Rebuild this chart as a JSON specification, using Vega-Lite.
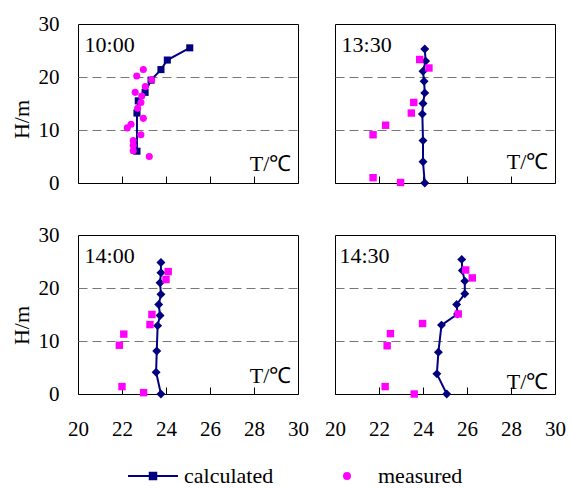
{
  "$schema": "https://vega.github.io/schema/vega-lite/v6.json",
  "padding": {"left": 9, "top": 12, "right": 0, "bottom": 0},
  "background": "white",
  "datasets": {
    "d": [
      {"panel": "10:00", "type": "calculated", "T": 22.68, "H": 6.0},
      {"panel": "10:00", "type": "calculated", "T": 22.68, "H": 13.2},
      {"panel": "10:00", "type": "calculated", "T": 22.74, "H": 15.5},
      {"panel": "10:00", "type": "calculated", "T": 23.05, "H": 17.1},
      {"panel": "10:00", "type": "calculated", "T": 23.32, "H": 19.4},
      {"panel": "10:00", "type": "calculated", "T": 23.77, "H": 21.4},
      {"panel": "10:00", "type": "calculated", "T": 24.06, "H": 23.2},
      {"panel": "10:00", "type": "calculated", "T": 25.08, "H": 25.5},
      {"panel": "10:00", "type": "measured", "T": 22.97, "H": 21.4},
      {"panel": "10:00", "type": "measured", "T": 22.67, "H": 20.2},
      {"panel": "10:00", "type": "measured", "T": 23.35, "H": 19.5},
      {"panel": "10:00", "type": "measured", "T": 23.06, "H": 18.2},
      {"panel": "10:00", "type": "measured", "T": 22.6, "H": 17.1},
      {"panel": "10:00", "type": "measured", "T": 22.9, "H": 16.4},
      {"panel": "10:00", "type": "measured", "T": 22.86, "H": 15.2},
      {"panel": "10:00", "type": "measured", "T": 22.71, "H": 14.1},
      {"panel": "10:00", "type": "measured", "T": 22.97, "H": 12.2},
      {"panel": "10:00", "type": "measured", "T": 22.41, "H": 11.1},
      {"panel": "10:00", "type": "measured", "T": 22.24, "H": 10.4},
      {"panel": "10:00", "type": "measured", "T": 22.86, "H": 9.1},
      {"panel": "10:00", "type": "measured", "T": 22.51, "H": 8.0},
      {"panel": "10:00", "type": "measured", "T": 22.51, "H": 7.1},
      {"panel": "10:00", "type": "measured", "T": 22.51, "H": 6.1},
      {"panel": "10:00", "type": "measured", "T": 23.24, "H": 5.0},
      {"panel": "13:30", "type": "calculated", "T": 24.08, "H": 0.0},
      {"panel": "13:30", "type": "calculated", "T": 24.0, "H": 4.0},
      {"panel": "13:30", "type": "calculated", "T": 24.0, "H": 8.0},
      {"panel": "13:30", "type": "calculated", "T": 23.97, "H": 13.0},
      {"panel": "13:30", "type": "calculated", "T": 24.0, "H": 15.0},
      {"panel": "13:30", "type": "calculated", "T": 24.08, "H": 17.0},
      {"panel": "13:30", "type": "calculated", "T": 24.05, "H": 19.2},
      {"panel": "13:30", "type": "calculated", "T": 24.0, "H": 21.1},
      {"panel": "13:30", "type": "calculated", "T": 24.12, "H": 23.0},
      {"panel": "13:30", "type": "calculated", "T": 24.08, "H": 25.3},
      {"panel": "13:30", "type": "measured", "T": 23.85, "H": 23.3},
      {"panel": "13:30", "type": "measured", "T": 24.27, "H": 21.7},
      {"panel": "13:30", "type": "measured", "T": 23.58, "H": 15.2},
      {"panel": "13:30", "type": "measured", "T": 23.47, "H": 13.2},
      {"panel": "13:30", "type": "measured", "T": 22.3, "H": 10.9},
      {"panel": "13:30", "type": "measured", "T": 21.73, "H": 9.1},
      {"panel": "13:30", "type": "measured", "T": 21.73, "H": 1.0},
      {"panel": "13:30", "type": "measured", "T": 22.98, "H": 0.1},
      {"panel": "14:00", "type": "calculated", "T": 23.77, "H": 0.0},
      {"panel": "14:00", "type": "calculated", "T": 23.55, "H": 4.1},
      {"panel": "14:00", "type": "calculated", "T": 23.58, "H": 8.1},
      {"panel": "14:00", "type": "calculated", "T": 23.62, "H": 12.9},
      {"panel": "14:00", "type": "calculated", "T": 23.73, "H": 14.8},
      {"panel": "14:00", "type": "calculated", "T": 23.67, "H": 16.9},
      {"panel": "14:00", "type": "calculated", "T": 23.77, "H": 18.8},
      {"panel": "14:00", "type": "calculated", "T": 23.73, "H": 21.0},
      {"panel": "14:00", "type": "calculated", "T": 23.77, "H": 22.9},
      {"panel": "14:00", "type": "calculated", "T": 23.77, "H": 24.8},
      {"panel": "14:00", "type": "measured", "T": 24.1, "H": 23.1},
      {"panel": "14:00", "type": "measured", "T": 24.0, "H": 21.6},
      {"panel": "14:00", "type": "measured", "T": 23.36, "H": 15.0},
      {"panel": "14:00", "type": "measured", "T": 23.27, "H": 13.1},
      {"panel": "14:00", "type": "measured", "T": 22.08, "H": 11.3},
      {"panel": "14:00", "type": "measured", "T": 21.88, "H": 9.2},
      {"panel": "14:00", "type": "measured", "T": 22.0, "H": 1.4},
      {"panel": "14:00", "type": "measured", "T": 22.98, "H": 0.25},
      {"panel": "14:30", "type": "calculated", "T": 25.08, "H": 0.0},
      {"panel": "14:30", "type": "calculated", "T": 24.63, "H": 3.8},
      {"panel": "14:30", "type": "calculated", "T": 24.7, "H": 7.9},
      {"panel": "14:30", "type": "calculated", "T": 24.84, "H": 13.0},
      {"panel": "14:30", "type": "calculated", "T": 25.57, "H": 15.1},
      {"panel": "14:30", "type": "calculated", "T": 25.53, "H": 16.9},
      {"panel": "14:30", "type": "calculated", "T": 25.9, "H": 18.9},
      {"panel": "14:30", "type": "calculated", "T": 25.9, "H": 21.3},
      {"panel": "14:30", "type": "calculated", "T": 25.79, "H": 23.3},
      {"panel": "14:30", "type": "calculated", "T": 25.76, "H": 25.4},
      {"panel": "14:30", "type": "measured", "T": 25.94, "H": 23.4},
      {"panel": "14:30", "type": "measured", "T": 26.24, "H": 21.9},
      {"panel": "14:30", "type": "measured", "T": 25.6, "H": 15.1},
      {"panel": "14:30", "type": "measured", "T": 23.98, "H": 13.3},
      {"panel": "14:30", "type": "measured", "T": 22.52, "H": 11.4},
      {"panel": "14:30", "type": "measured", "T": 22.37, "H": 9.1},
      {"panel": "14:30", "type": "measured", "T": 22.28, "H": 1.4},
      {"panel": "14:30", "type": "measured", "T": 23.6, "H": 0.0}
    ],
    "labels": [
      {"panel": "10:00", "unit": "T/℃"},
      {"panel": "13:30", "unit": "T/℃"},
      {"panel": "14:00", "unit": "T/℃"},
      {"panel": "14:30", "unit": "T/℃"}
    ]
  },
  "columns": 2,
  "bounds": "flush",
  "spacing": {"row": 52, "column": 37},
  "concat": [
    {
      "width": 220, "height": 159,
      "layer": [
        {"data": {"name": "d"},
         "transform": [{"filter": "datum.panel === '10:00' && datum.type === 'calculated'"}],
         "mark": {"type": "line", "strokeWidth": 2},
         "encoding": {
           "x": {"field": "T", "type": "quantitative", "scale": {"domain": [20, 30], "nice": false, "zero": false},
                 "axis": {"values": [20, 22, 24, 26, 28, 30], "labels": false, "title": null}},
           "y": {"field": "H", "type": "quantitative", "scale": {"domain": [0, 30], "nice": false},
                 "axis": {"values": [0, 10, 20, 30], "title": "H/m", "titleY": 95}},
           "order": {"field": "H", "type": "quantitative"},
           "color": {"field": "type", "type": "nominal", "scale": {"domain": ["calculated", "measured"], "range": ["#000080", "#FF00FF"]},
             "legend": {"orient": "none", "legendX": 64, "legendY": 441, "direction": "horizontal", "title": null,
               "labelFontSize": 22, "labelFont": "Times New Roman", "labelColor": "black", "columnPadding": 62, "labelOffset": 20, "padding": 0,
               "encode": {
                 "symbols": {"update": {
                 "shape": {"signal": "datum.value === 'calculated' ? 'M-1,0H1M-0.13,-0.13H0.13V0.13H-0.13Z' : 'circle'"},
                 "size": {"signal": "datum.value === 'calculated' ? 2500 : 36"},
                 "fill": {"signal": "datum.value === 'calculated' ? '#000080' : '#FF00FF'"},
                 "stroke": {"signal": "datum.value === 'calculated' ? '#000080' : '#FF00FF'"},
                 "strokeWidth": {"value": 2},
                 "opacity": {"value": 1}}}}}}}},
        {"data": {"name": "d"},
         "transform": [{"filter": "datum.panel === '10:00' && datum.type === 'calculated'"}],
         "mark": {"type": "point", "shape": "square", "filled": true, "size": 50, "opacity": 1},
         "encoding": {"x": {"field": "T", "type": "quantitative"}, "y": {"field": "H", "type": "quantitative"}, "color": {"field": "type", "type": "nominal"}}},
        {"data": {"name": "d"},
         "transform": [{"filter": "datum.panel === '10:00' && datum.type === 'measured'"}],
         "mark": {"type": "point", "shape": "circle", "filled": true, "size": 50, "opacity": 1},
         "encoding": {"x": {"field": "T", "type": "quantitative"}, "y": {"field": "H", "type": "quantitative"}, "color": {"field": "type", "type": "nominal"}}},
        {"data": {"name": "labels"},
         "transform": [{"filter": "datum.panel === '10:00'"}],
         "mark": {"type": "text", "align": "left", "baseline": "middle", "fontSize": 22, "color": "black"},
         "encoding": {"x": {"datum": 20.3}, "y": {"datum": 26}, "text": {"field": "panel"}}},
        {"data": {"name": "labels"},
         "transform": [{"filter": "datum.panel === '10:00'"}],
         "mark": {"type": "text", "align": "right", "baseline": "middle", "fontSize": 22, "color": "black"},
         "encoding": {"x": {"datum": 29.7}, "y": {"datum": 3.5}, "text": {"field": "unit"}}}
      ]
    },
    {
      "width": 220, "height": 159,
      "layer": [
        {"data": {"name": "d"},
         "transform": [{"filter": "datum.panel === '13:30' && datum.type === 'calculated'"}],
         "mark": {"type": "line", "strokeWidth": 2},
         "encoding": {
           "x": {"field": "T", "type": "quantitative", "scale": {"domain": [20, 30], "nice": false, "zero": false},
                 "axis": {"values": [20, 22, 24, 26, 28, 30], "labels": false, "title": null}},
           "y": {"field": "H", "type": "quantitative", "scale": {"domain": [0, 30], "nice": false},
                 "axis": {"values": [0, 10, 20, 30], "labels": false, "title": null}},
           "order": {"field": "H", "type": "quantitative"},
           "color": {"field": "type", "type": "nominal"}}},
        {"data": {"name": "d"},
         "transform": [{"filter": "datum.panel === '13:30' && datum.type === 'calculated'"}],
         "mark": {"type": "point", "shape": "diamond", "filled": true, "size": 80, "opacity": 1},
         "encoding": {"x": {"field": "T", "type": "quantitative"}, "y": {"field": "H", "type": "quantitative"}, "color": {"field": "type", "type": "nominal"}}},
        {"data": {"name": "d"},
         "transform": [{"filter": "datum.panel === '13:30' && datum.type === 'measured'"}],
         "mark": {"type": "point", "shape": "square", "filled": true, "size": 55, "opacity": 1},
         "encoding": {"x": {"field": "T", "type": "quantitative"}, "y": {"field": "H", "type": "quantitative"}, "color": {"field": "type", "type": "nominal"}}},
        {"data": {"name": "labels"},
         "transform": [{"filter": "datum.panel === '13:30'"}],
         "mark": {"type": "text", "align": "left", "baseline": "middle", "fontSize": 22, "color": "black"},
         "encoding": {"x": {"datum": 20.3}, "y": {"datum": 26}, "text": {"field": "panel"}}},
        {"data": {"name": "labels"},
         "transform": [{"filter": "datum.panel === '13:30'"}],
         "mark": {"type": "text", "align": "right", "baseline": "middle", "fontSize": 22, "color": "black"},
         "encoding": {"x": {"datum": 29.7}, "y": {"datum": 4}, "text": {"field": "unit"}}}
      ]
    },
    {
      "width": 220, "height": 159,
      "layer": [
        {"data": {"name": "d"},
         "transform": [{"filter": "datum.panel === '14:00' && datum.type === 'calculated'"}],
         "mark": {"type": "line", "strokeWidth": 2},
         "encoding": {
           "x": {"field": "T", "type": "quantitative", "scale": {"domain": [20, 30], "nice": false, "zero": false},
                 "axis": {"values": [20, 22, 24, 26, 28, 30], "title": null}},
           "y": {"field": "H", "type": "quantitative", "scale": {"domain": [0, 30], "nice": false},
                 "axis": {"values": [0, 10, 20, 30], "title": "H/m", "titleY": 90}},
           "order": {"field": "H", "type": "quantitative"},
           "color": {"field": "type", "type": "nominal"}}},
        {"data": {"name": "d"},
         "transform": [{"filter": "datum.panel === '14:00' && datum.type === 'calculated'"}],
         "mark": {"type": "point", "shape": "diamond", "filled": true, "size": 80, "opacity": 1},
         "encoding": {"x": {"field": "T", "type": "quantitative"}, "y": {"field": "H", "type": "quantitative"}, "color": {"field": "type", "type": "nominal"}}},
        {"data": {"name": "d"},
         "transform": [{"filter": "datum.panel === '14:00' && datum.type === 'measured'"}],
         "mark": {"type": "point", "shape": "square", "filled": true, "size": 55, "opacity": 1},
         "encoding": {"x": {"field": "T", "type": "quantitative"}, "y": {"field": "H", "type": "quantitative"}, "color": {"field": "type", "type": "nominal"}}},
        {"data": {"name": "labels"},
         "transform": [{"filter": "datum.panel === '14:00'"}],
         "mark": {"type": "text", "align": "left", "baseline": "middle", "fontSize": 22, "color": "black"},
         "encoding": {"x": {"datum": 20.3}, "y": {"datum": 26}, "text": {"field": "panel"}}},
        {"data": {"name": "labels"},
         "transform": [{"filter": "datum.panel === '14:00'"}],
         "mark": {"type": "text", "align": "right", "baseline": "middle", "fontSize": 22, "color": "black"},
         "encoding": {"x": {"datum": 29.7}, "y": {"datum": 3.4}, "text": {"field": "unit"}}}
      ]
    },
    {
      "width": 220, "height": 159,
      "layer": [
        {"data": {"name": "d"},
         "transform": [{"filter": "datum.panel === '14:30' && datum.type === 'calculated'"}],
         "mark": {"type": "line", "strokeWidth": 2},
         "encoding": {
           "x": {"field": "T", "type": "quantitative", "scale": {"domain": [20, 30], "nice": false, "zero": false},
                 "axis": {"values": [20, 22, 24, 26, 28, 30], "title": null}},
           "y": {"field": "H", "type": "quantitative", "scale": {"domain": [0, 30], "nice": false},
                 "axis": {"values": [0, 10, 20, 30], "labels": false, "title": null}},
           "order": {"field": "H", "type": "quantitative"},
           "color": {"field": "type", "type": "nominal"}}},
        {"data": {"name": "d"},
         "transform": [{"filter": "datum.panel === '14:30' && datum.type === 'calculated'"}],
         "mark": {"type": "point", "shape": "diamond", "filled": true, "size": 80, "opacity": 1},
         "encoding": {"x": {"field": "T", "type": "quantitative"}, "y": {"field": "H", "type": "quantitative"}, "color": {"field": "type", "type": "nominal"}}},
        {"data": {"name": "d"},
         "transform": [{"filter": "datum.panel === '14:30' && datum.type === 'measured'"}],
         "mark": {"type": "point", "shape": "square", "filled": true, "size": 55, "opacity": 1},
         "encoding": {"x": {"field": "T", "type": "quantitative"}, "y": {"field": "H", "type": "quantitative"}, "color": {"field": "type", "type": "nominal"}}},
        {"data": {"name": "labels"},
         "transform": [{"filter": "datum.panel === '14:30'"}],
         "mark": {"type": "text", "align": "left", "baseline": "middle", "fontSize": 22, "color": "black"},
         "encoding": {"x": {"datum": 20.2}, "y": {"datum": 26}, "text": {"field": "panel"}}},
        {"data": {"name": "labels"},
         "transform": [{"filter": "datum.panel === '14:30'"}],
         "mark": {"type": "text", "align": "right", "baseline": "middle", "fontSize": 22, "color": "black"},
         "encoding": {"x": {"datum": 29.7}, "y": {"datum": 2.2}, "text": {"field": "unit"}}}
      ]
    }
  ],
  "config": {
    "view": {"stroke": "black", "strokeWidth": 1},
    "text": {"font": "Times New Roman"},
    "legend": {"labelFont": "Times New Roman"},
    "axis": {
      "labelFontSize": 21, "labelColor": "black",
      "titleFontSize": 22, "titleFontWeight": "normal", "titleColor": "black",
      "gridColor": "#777777", "gridDash": [9, 5],
      "gridOpacity": {"condition": {"test": "datum.value === 0 || datum.value === 30", "value": 0}, "value": 1}
    },
    "axisX": {
      "labelFont": "Times New Roman", "titleFont": "Times New Roman",
      "offset": -7, "ticks": true, "tickSize": 7, "tickWidth": 1, "tickColor": "black", "tickOpacity": 1,
      "zindex": 1, "domain": false, "grid": false, "labelFlush": false, "labelPadding": 24
    },
    "axisY": {
      "labelFont": "Times New Roman", "titleFont": "Times New Roman",
      "ticks": false, "domain": false, "grid": true, "labelFlush": false, "labelPadding": 19, "titlePadding": 5
    }
  }
}
